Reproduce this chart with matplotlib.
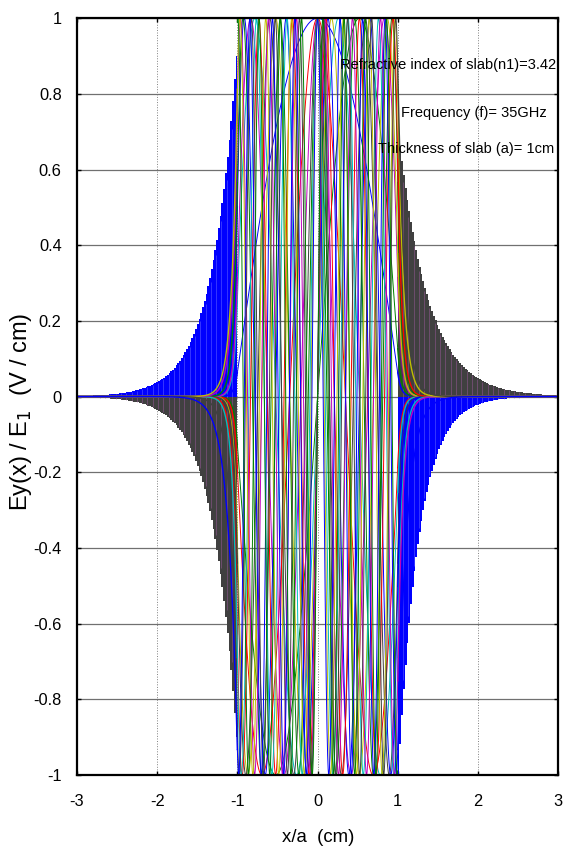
import numpy as np
import matplotlib
matplotlib.use("Agg")
from matplotlib import pyplot as plt
from matplotlib import font_manager

plt.rcParams['axes.unicode_minus'] = False

# old MATLAB colour order
line_colors = ['#0000ff', '#008000', '#ff0000', '#00bfbf', '#bf00bf', '#bfbf00', '#404040']

# transverse wavenumbers u (rad/cm) and cladding decay w (1/cm) of the 16 TE modes
mode_u = [1.508, 3.015, 4.523, 6.028, 7.534, 9.038, 10.54, 12.041,
          13.536, 15.03, 16.518, 18.0, 19.473, 20.93, 22.36, 23.71]
mode_w = [23.92, 23.78, 23.54, 23.2, 22.75, 22.2, 21.52, 20.73,
          19.78, 18.67, 17.37, 15.83, 13.98, 11.68, 8.64, 3.51]

# hatched tails outside the slab: (side, amplitude at |x|=1, decay, colour)
tail_side = [-1, 1, -1, 1]
tail_amp = [-0.9, 0.7, 0.9, -1.0]
tail_decay = [3.3, 2.7, 3.2, 3.9]
tail_color = ['#404040', '#404040', '#0000ff', '#0000ff']
tail_stripe = ['#9a5a9a', '#9a5a9a', '#6a6aff', '#6a6aff']

notes = ['Refractive index of slab(n1)=3.42', 'Frequency (f)= 35GHz', 'Thickness of slab (a)= 1cm']
note_x = [2.98, 2.86, 2.95]
note_y = [0.875, 0.75, 0.655]

# a narrow face if there is one, the plain one made smaller if not
have = {f.name for f in font_manager.fontManager.ttflist}
if 'Liberation Sans Narrow' in have:
    narrow = ['Liberation Sans Narrow', 'DejaVu Sans']
    shrink = 1.0
else:
    narrow = ['Liberation Sans', 'DejaVu Sans']
    shrink = 0.84

fig = plt.figure(figsize=(5.64, 8.61), dpi=100)
ax = fig.add_axes([0.1365, 0.0999, 0.853, 0.879])

# tails
for side, amp, dec, col, stc in zip(tail_side, tail_amp, tail_decay, tail_color, tail_stripe):
    xs = np.arange(1.0, 3.0001, 0.022)
    env = amp * np.exp(-dec * (xs - 1.0))
    ax.fill_between(side * xs, 0, env, step='post', color=col, lw=0, zorder=2)
    xl = xs[::3][1:]
    el = amp * np.exp(-dec * (xl - 1.0))
    ax.vlines(side * xl, 0, el * 0.97, colors=stc, lw=0.5, alpha=0.7, zorder=2.1)

# modes inside and the short tails
x_in = np.linspace(-1, 1, 1500)
x_out = np.linspace(1, 3, 600)
for m, (u, w) in enumerate(zip(mode_u, mode_w)):
    col = line_colors[m % len(line_colors)]
    if m % 2 == 0:
        inside = np.cos(u * x_in)
        edge_r = np.cos(u)
        edge_l = edge_r
    else:
        inside = np.sin(u * x_in)
        edge_r = np.sin(u)
        edge_l = -edge_r
    ax.plot(x_in, inside, color=col, lw=0.7, zorder=3)
    if m < len(mode_u) - 1:
        ax.plot(x_out, edge_r * np.exp(-w * (x_out - 1)), color=col, lw=1.0, zorder=3)
        ax.plot(-x_out, edge_l * np.exp(-w * (x_out - 1)), color=col, lw=1.0, zorder=3)

ax.set_xlim(-3, 3)
ax.set_ylim(-1, 1)
ax.set_xticks(np.arange(-3, 4, 1))
ax.set_yticks(np.round(np.arange(-1, 1.01, 0.2), 1))
ax.set_yticklabels(['-1', '-0.8', '-0.6', '-0.4', '-0.2', '0', '0.2', '0.4', '0.6', '0.8', '1'])
ax.tick_params(direction='in', length=3, width=1, top=True, right=True, labelsize=14 * shrink)
ax.tick_params(axis='y', pad=11)
ax.tick_params(axis='x', pad=14)
for lab in ax.get_xticklabels() + ax.get_yticklabels():
    lab.set_family(narrow)

ax.xaxis.grid(True, linestyle=':', color='#808080', lw=0.7)
ax.yaxis.grid(True, linestyle='-', color='#707070', lw=0.9)
ax.set_axisbelow(True)
for sp in ax.spines.values():
    sp.set_linewidth(1.6)
    sp.set_zorder(5)

for t, tx, ty in zip(notes, note_x, note_y):
    ax.text(tx, ty, t, fontsize=12.5 * shrink, family=narrow, ha='right', va='center', zorder=6)

fig.text(318 / 564, 1 - 838 / 861, 'x/a  (cm)', fontsize=16 * shrink, family=narrow,
         ha='center', va='center')
fig.text(21 / 564, 1 - 412 / 861, 'Ey(x) / E$_1$  (V / cm)', fontsize=17, rotation=90,
         family=['Liberation Sans', 'DejaVu Sans'], ha='center', va='center')

fig.savefig('out.png', dpi=100)
